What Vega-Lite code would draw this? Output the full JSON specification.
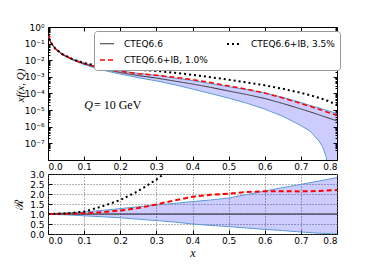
{
  "$schema": "https://vega.github.io/schema/vega-lite/v6.json",
  "background": "white",
  "padding": {"left": 11, "top": 22, "right": 5, "bottom": 5},
  "spacing": 14,
  "bounds": "flush",
  "config": {
    "view": {"stroke": "black", "strokeWidth": 1},
    "axis": {"domain": false, "labelFont": "DejaVu Sans", "labelFontSize": 9, "labelColor": "black", "tickColor": "black", "tickSize": -4, "labelPadding": 8, "titleFont": "Liberation Serif", "titleFontStyle": "italic", "titleFontWeight": "normal", "titleFontSize": 12, "titleColor": "black", "grid": false},
    "axisX": {"labelPadding": 6}
  },
  "datasets": {
    "top": [
      {"x": 0.001, "c": 0.398, "lo": 0.389, "hi": 0.407, "ib1": 0.398, "ib35": 0.398},
      {"x": 0.003, "c": 0.224, "lo": 0.219, "hi": 0.229, "ib1": 0.224, "ib35": 0.224},
      {"x": 0.006, "c": 0.141, "lo": 0.138, "hi": 0.145, "ib1": 0.141, "ib35": 0.141},
      {"x": 0.01, "c": 0.1, "lo": 0.0977, "hi": 0.102, "ib1": 0.1, "ib35": 0.1},
      {"x": 0.02, "c": 0.0501, "lo": 0.049, "hi": 0.0525, "ib1": 0.0501, "ib35": 0.0501},
      {"x": 0.04, "c": 0.0224, "lo": 0.0214, "hi": 0.0234, "ib1": 0.0226, "ib35": 0.0229},
      {"x": 0.07, "c": 0.0105, "lo": 0.00977, "hi": 0.0112, "ib1": 0.0107, "ib35": 0.0112},
      {"x": 0.1, "c": 0.00603, "lo": 0.0055, "hi": 0.00661, "ib1": 0.00631, "ib35": 0.00676},
      {"x": 0.15, "c": 0.00302, "lo": 0.00257, "hi": 0.00355, "ib1": 0.00331, "ib35": 0.00417},
      {"x": 0.2, "c": 0.00182, "lo": 0.00148, "hi": 0.00229, "ib1": 0.00214, "ib35": 0.00309},
      {"x": 0.25, "c": 0.0012, "lo": 0.000891, "hi": 0.00162, "ib1": 0.00155, "ib35": 0.00263},
      {"x": 0.3, "c": 0.000851, "lo": 0.000575, "hi": 0.00123, "ib1": 0.00126, "ib35": 0.00229},
      {"x": 0.35, "c": 0.000562, "lo": 0.000339, "hi": 0.000851, "ib1": 0.000933, "ib35": 0.00178},
      {"x": 0.4, "c": 0.000372, "lo": 0.000186, "hi": 0.000603, "ib1": 0.000692, "ib35": 0.00132},
      {"x": 0.45, "c": 0.000234, "lo": 0.0001, "hi": 0.000398, "ib1": 0.000457, "ib35": 0.000955},
      {"x": 0.5, "c": 0.000141, "lo": 0.0000525, "hi": 0.000257, "ib1": 0.000285, "ib35": 0.000676},
      {"x": 0.55, "c": 0.0000871, "lo": 0.0000263, "hi": 0.00017, "ib1": 0.000182, "ib35": 0.000468},
      {"x": 0.6, "c": 0.0000501, "lo": 0.0000115, "hi": 0.000107, "ib1": 0.000107, "ib35": 0.000309},
      {"x": 0.65, "c": 0.0000251, "lo": 0.00000427, "hi": 0.0000589, "ib1": 0.0000537, "ib35": 0.000191},
      {"x": 0.7, "c": 0.0000117, "lo": 0.00000117, "hi": 0.0000288, "ib1": 0.0000251, "ib35": 0.00011},
      {"x": 0.725, "c": 0.00000794, "lo": 0.000000562, "hi": 0.0000191, "ib1": 0.000017, "ib35": 0.0000794},
      {"x": 0.75, "c": 0.00000525, "lo": 0.000000141, "hi": 0.0000138, "ib1": 0.0000112, "ib35": 0.000055},
      {"x": 0.76, "c": 0.00000437, "lo": 0.0000000631, "hi": 0.0000117, "ib1": 0.00000955, "ib35": 0.0000468},
      {"x": 0.77, "c": 0.00000372, "lo": 0.0000000158, "hi": 0.00001, "ib1": 0.00000794, "ib35": 0.0000398},
      {"x": 0.78, "c": 0.00000316, "lo": 1e-10, "hi": 0.00000851, "ib1": 0.00000676, "ib35": 0.0000316},
      {"x": 0.8, "c": 0.00000224, "lo": 1e-10, "hi": 0.00000631, "ib1": 0.0000049, "ib35": 0.0000214}
    ],
    "ratio": [
      {"x": 0.001, "lo": 0.98, "hi": 1.02, "r1": 1.0, "r35": 1.0},
      {"x": 0.05, "lo": 0.96, "hi": 1.05, "r1": 1.01, "r35": 1.03},
      {"x": 0.1, "lo": 0.91, "hi": 1.1, "r1": 1.04, "r35": 1.12},
      {"x": 0.15, "lo": 0.86, "hi": 1.18, "r1": 1.09, "r35": 1.38},
      {"x": 0.2, "lo": 0.81, "hi": 1.27, "r1": 1.17, "r35": 1.7},
      {"x": 0.25, "lo": 0.74, "hi": 1.36, "r1": 1.3, "r35": 2.15},
      {"x": 0.3, "lo": 0.67, "hi": 1.45, "r1": 1.48, "r35": 2.72},
      {"x": 0.35, "lo": 0.6, "hi": 1.53, "r1": 1.68, "r35": 3.4},
      {"x": 0.4, "lo": 0.5, "hi": 1.62, "r1": 1.86},
      {"x": 0.45, "lo": 0.43, "hi": 1.7, "r1": 1.96},
      {"x": 0.5, "lo": 0.37, "hi": 1.8, "r1": 2.02},
      {"x": 0.55, "lo": 0.3, "hi": 1.97, "r1": 2.1},
      {"x": 0.6, "lo": 0.23, "hi": 2.15, "r1": 2.14},
      {"x": 0.65, "lo": 0.17, "hi": 2.32, "r1": 2.14},
      {"x": 0.7, "lo": 0.1, "hi": 2.48, "r1": 2.13},
      {"x": 0.75, "lo": 0.04, "hi": 2.65, "r1": 2.15},
      {"x": 0.8, "lo": 0.0, "hi": 2.82, "r1": 2.2}
    ]
  },
  "vconcat": [
    {
      "width": 289,
      "height": 133,
      "data": {"name": "top"},
      "resolve": {"axis": {"x": "independent", "y": "independent"}},
      "layer": [
        {
          "mark": {"type": "area", "fill": "blue", "fillOpacity": 0.2, "clip": true},
          "encoding": {
            "x": {"field": "x", "type": "quantitative", "scale": {"domain": [0, 0.8]}, "axis": {"orient": "bottom", "values": [0, 0.1, 0.2, 0.3, 0.4, 0.5, 0.6, 0.7, 0.8], "format": ".1f", "title": null}},
            "y": {"field": "lo", "type": "quantitative", "scale": {"type": "log", "domain": [4e-8, 1]}, "axis": {"orient": "left", "values": [1, 0.1, 0.01, 0.001, 0.0001, 0.00001, 0.000001, 0.0000001], "labelExpr": "'10' + ['⁰','⁻¹','⁻²','⁻³','⁻⁴','⁻⁵','⁻⁶','⁻⁷'][round(-log(datum.value)/LN10)]", "title": "xf(x, Q)", "titleFontSize": 11, "titleX": -23, "titleY": 58}},
            "y2": {"field": "hi"}
          }
        },
        {
          "mark": {"type": "line", "color": "#5b9bd5", "strokeWidth": 1, "clip": true},
          "encoding": {
            "x": {"field": "x", "type": "quantitative", "axis": {"orient": "top", "values": [0.1, 0.2, 0.3, 0.4, 0.5, 0.6, 0.7], "labels": false, "title": null}},
            "y": {"field": "hi", "type": "quantitative", "axis": {"orient": "left", "values": [4e-8,5e-8,6e-8,7e-8,8e-8,9e-8,2e-7,3e-7,4e-7,5e-7,6e-7,7e-7,8e-7,9e-7,2e-6,3e-6,4e-6,5e-6,6e-6,7e-6,8e-6,9e-6,2e-5,3e-5,4e-5,5e-5,6e-5,7e-5,8e-5,9e-5,2e-4,3e-4,4e-4,5e-4,6e-4,7e-4,8e-4,9e-4,2e-3,3e-3,4e-3,5e-3,6e-3,7e-3,8e-3,9e-3,0.02,0.03,0.04,0.05,0.06,0.07,0.08,0.09,0.2,0.3,0.4,0.5,0.6,0.7,0.8,0.9], "labels": false, "tickSize": -2, "title": null}}
          }
        },
        {
          "mark": {"type": "line", "color": "#5b9bd5", "strokeWidth": 1, "clip": true},
          "encoding": {
            "x": {"field": "x", "type": "quantitative", "axis": null},
            "y": {"field": "lo", "type": "quantitative", "axis": {"orient": "right", "values": [1, 0.1, 0.01, 0.001, 0.0001, 0.00001, 0.000001, 0.0000001], "labels": false, "title": null}}
          }
        },
        {
          "transform": [{"fold": ["c", "ib1", "ib35"], "as": ["s", "v"]}],
          "mark": {"type": "line", "clip": true},
          "encoding": {
            "x": {"field": "x", "type": "quantitative", "axis": null},
            "y": {"field": "v", "type": "quantitative", "axis": {"orient": "right", "values": [4e-8,5e-8,6e-8,7e-8,8e-8,9e-8,2e-7,3e-7,4e-7,5e-7,6e-7,7e-7,8e-7,9e-7,2e-6,3e-6,4e-6,5e-6,6e-6,7e-6,8e-6,9e-6,2e-5,3e-5,4e-5,5e-5,6e-5,7e-5,8e-5,9e-5,2e-4,3e-4,4e-4,5e-4,6e-4,7e-4,8e-4,9e-4,2e-3,3e-3,4e-3,5e-3,6e-3,7e-3,8e-3,9e-3,0.02,0.03,0.04,0.05,0.06,0.07,0.08,0.09,0.2,0.3,0.4,0.5,0.6,0.7,0.8,0.9], "labels": false, "tickSize": -2, "title": null}},
            "color": {"field": "s", "type": "nominal", "scale": {"domain": ["c", "ib1", "ib35"], "range": ["#333333", "red", "black"]}, "legend": {"orient": "none", "legendX": 46, "legendY": 4, "columns": 2, "columnPadding": 15, "rowPadding": 3, "padding": 5, "strokeColor": "#999999", "fillColor": "white", "cornerRadius": 3, "labelFont": "DejaVu Sans", "labelFontSize": 9, "labelColor": "black", "symbolType": "stroke", "symbolSize": 196, "labelOffset": 9, "title": null, "labelExpr": "datum.value == 'c' ? 'CTEQ6.6' : datum.value == 'ib1' ? 'CTEQ6.6+IB, 1.0%' : 'CTEQ6.6+IB, 3.5%'"}},
            "strokeDash": {"field": "s", "type": "nominal", "scale": {"domain": ["c", "ib1", "ib35"], "range": [[1, 0], [5, 3], [2, 3]]}, "legend": {"orient": "none", "legendX": 46, "legendY": 4, "columns": 2, "columnPadding": 15, "rowPadding": 3, "padding": 5, "strokeColor": "#999999", "fillColor": "white", "cornerRadius": 3, "labelFont": "DejaVu Sans", "labelFontSize": 9, "labelColor": "black", "symbolType": "stroke", "symbolSize": 196, "labelOffset": 9, "title": null, "labelExpr": "datum.value == 'c' ? 'CTEQ6.6' : datum.value == 'ib1' ? 'CTEQ6.6+IB, 1.0%' : 'CTEQ6.6+IB, 3.5%'"}},
            "strokeWidth": {"field": "s", "type": "nominal", "scale": {"domain": ["c", "ib1", "ib35"], "range": [1, 2, 2]}, "legend": {"orient": "none", "legendX": 46, "legendY": 4, "columns": 2, "columnPadding": 15, "rowPadding": 3, "padding": 5, "strokeColor": "#999999", "fillColor": "white", "cornerRadius": 3, "labelFont": "DejaVu Sans", "labelFontSize": 9, "labelColor": "black", "symbolType": "stroke", "symbolSize": 196, "labelOffset": 9, "title": null, "labelExpr": "datum.value == 'c' ? 'CTEQ6.6' : datum.value == 'ib1' ? 'CTEQ6.6+IB, 1.0%' : 'CTEQ6.6+IB, 3.5%'"}}
          }
        },
        {
          "data": {"values": [{}]},
          "mark": {"type": "text", "text": "Q", "font": "Liberation Serif", "fontStyle": "italic", "fontWeight": "normal", "fontSize": 12, "align": "left", "baseline": "middle", "color": "black"},
          "encoding": {
            "x": {"datum": 0.1, "type": "quantitative", "axis": null},
            "y": {"datum": 0.000021, "type": "quantitative", "axis": null}
          }
        },
        {
          "data": {"values": [{}]},
          "mark": {"type": "text", "text": "= 10 GeV", "font": "Liberation Serif", "fontWeight": "normal", "fontSize": 12, "align": "left", "baseline": "middle", "color": "black"},
          "encoding": {
            "x": {"datum": 0.127, "type": "quantitative", "axis": null},
            "y": {"datum": 0.000021, "type": "quantitative", "axis": null}
          }
        }
      ]
    },
    {
      "width": 289,
      "height": 60,
      "data": {"name": "ratio"},
      "resolve": {"axis": {"x": "independent", "y": "independent"}},
      "layer": [
        {
          "mark": {"type": "area", "fill": "blue", "fillOpacity": 0.2, "clip": true},
          "encoding": {
            "x": {"field": "x", "type": "quantitative", "scale": {"domain": [0, 0.8]}, "axis": {"values": [0, 0.1, 0.2, 0.3, 0.4, 0.5, 0.6, 0.7, 0.8], "format": ".1f", "title": "x", "grid": true, "gridDash": [1, 2], "gridColor": "#666666", "titlePadding": 2}},
            "y": {"field": "lo", "type": "quantitative", "scale": {"domain": [0, 3]}, "axis": {"values": [0, 0.5, 1, 1.5, 2, 2.5, 3], "format": ".1f", "title": "ℛ", "titleFontStyle": "normal", "titleX": -23, "grid": true, "gridDash": [1, 2], "gridColor": "#666666"}},
            "y2": {"field": "hi"}
          }
        },
        {
          "mark": {"type": "line", "color": "#5b9bd5", "strokeWidth": 1, "clip": true},
          "encoding": {
            "x": {"field": "x", "type": "quantitative", "axis": null},
            "y": {"field": "hi", "type": "quantitative", "axis": null}
          }
        },
        {
          "mark": {"type": "line", "color": "#5b9bd5", "strokeWidth": 1, "clip": true},
          "encoding": {
            "x": {"field": "x", "type": "quantitative", "axis": null},
            "y": {"field": "lo", "type": "quantitative", "axis": null}
          }
        },
        {
          "data": {"values": [{}]},
          "mark": {"type": "rule", "color": "#222222", "strokeWidth": 1},
          "encoding": {"y": {"datum": 1, "type": "quantitative", "axis": null}}
        },
        {
          "mark": {"type": "line", "color": "red", "strokeWidth": 2, "strokeDash": [5, 3], "clip": true},
          "encoding": {
            "x": {"field": "x", "type": "quantitative", "axis": null},
            "y": {"field": "r1", "type": "quantitative", "axis": null}
          }
        },
        {
          "mark": {"type": "line", "color": "black", "strokeWidth": 2, "strokeDash": [2, 3], "clip": true},
          "encoding": {
            "x": {"field": "x", "type": "quantitative", "axis": null},
            "y": {"field": "r35", "type": "quantitative", "axis": null}
          }
        }
      ]
    }
  ]
}
